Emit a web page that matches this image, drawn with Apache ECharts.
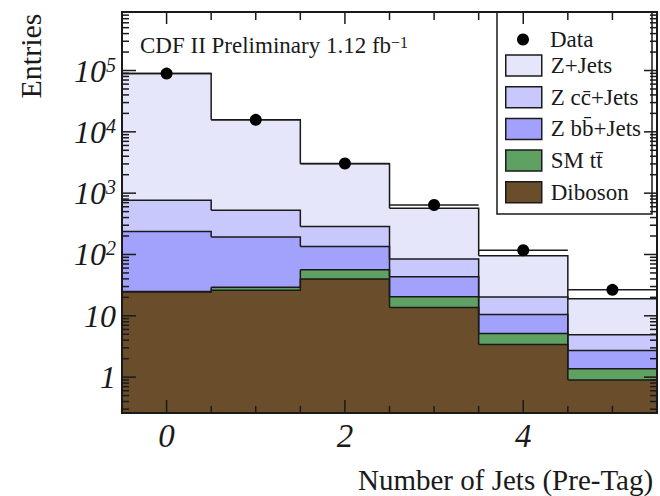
<!DOCTYPE html>
<html><head><meta charset="utf-8">
<script src="https://cdn.jsdelivr.net/npm/echarts@6/dist/echarts.min.js"></script>
<style>html,body{margin:0;padding:0;background:#fff}#c{width:660px;height:496px}</style>
</head><body><div id="c"></div>
<script>
// ---- data ----
const nJets   = [0, 1, 2, 3, 4, 5];
const diboson = [24.5, 26, 39.8, 13.7, 3.4, 0.9];
const ttbar   = [0.4, 3.3, 16.7, 6.8, 1.75, 0.47];
const zbb     = [213, 164, 78.5, 22.9, 5.35, 1.35];
const zcc     = [526, 331, 152, 41, 9.7, 2.18];
const zjets   = [88500, 15180, 2743, 481, 75.3, 14.1];
const dataCounts = [89000, 15700, 3050, 640, 117, 26.5];

const layerNames = ['Diboson', 'SM tt\u0304', 'Z bb\u0304+Jets', 'Z cc\u0304+Jets', 'Z+Jets'];
const layerColors = ['#6a4d2b', '#5fa063', '#a2a2fc', '#c8c8fc', '#e6e6fa'];
const layers = [diboson, ttbar, zbb, zcc, zjets];

const xLabelValues = [0, 2, 4];
const xMinorTicks = [0.5, 1, 1.5, 2.5, 3, 3.5, 4.5, 5];
const yMajorTicks = [1, 10, 100, 1000, 10000, 100000];
const yMinorMult = [2, 3, 4, 5, 6, 7, 8, 9];
const yMin = 0.26, yMax = 9e5;

const SERIF = 'Liberation Serif, Times New Roman, serif';
const INK = '#1a1a1a';

// cumulative stack tops
const tops = [];
layers.forEach((arr, k) => {
  tops.push(arr.map((v, i) => (k === 0 ? 0 : tops[k - 1][i]) + v));
});

const series = [];
// filled layers
layers.forEach((arr, k) => {
  series.push({
    type: 'custom', name: layerNames[k], coordinateSystem: 'cartesian2d', z: 2,
    itemStyle: { color: layerColors[k] },
    encode: { x: 0, y: [1, 2] },
    data: nJets.map((x, i) => [x, k === 0 ? yMin : tops[k - 1][i], tops[k][i]]),
    renderItem: (params, api) => {
      const x = api.value(0), lo = api.value(1), hi = api.value(2);
      const p1 = api.coord([x - 0.5, hi]), p2 = api.coord([x + 0.5, lo]);
      const x1 = Math.round(p1[0]), x2 = Math.round(p2[0]);
      return { type: 'rect', shape: { x: x1, y: p1[1], width: x2 - x1 + 0.5, height: p2[1] - p1[1] },
               style: { fill: layerColors[k] } };
    }
  });
});
// step outlines
layers.forEach((arr, k) => {
  series.push({
    type: 'custom', coordinateSystem: 'cartesian2d', z: 3, silent: true,
    encode: { x: 0, y: 1 },
    data: nJets.map((x, i) => [x, tops[k][i], i < nJets.length - 1 ? tops[k][i + 1] : tops[k][i]]),
    renderItem: (params, api) => {
      const x = api.value(0), t = api.value(1), tn = api.value(2);
      const pts = [api.coord([x - 0.5, t]), api.coord([x + 0.5, t]), api.coord([x + 0.5, tn])];
      return { type: 'polyline', shape: { points: pts }, style: { stroke: INK, lineWidth: 1.5, fill: null } };
    }
  });
});
// data points
series.push({
  type: 'custom', name: 'Data', coordinateSystem: 'cartesian2d', z: 4,
  itemStyle: { color: '#000' },
  encode: { x: 0, y: 1 },
  data: nJets.map((x, i) => [x, dataCounts[i]]),
  renderItem: (params, api) => {
    const x = api.value(0), y = api.value(1);
    const a = api.coord([x - 0.5, y]), b = api.coord([x + 0.5, y]), c = api.coord([x, y]);
    return { type: 'group', children: [
      { type: 'line', shape: { x1: a[0], y1: a[1], x2: b[0], y2: b[1] }, style: { stroke: INK, lineWidth: 1.5 } },
      { type: 'circle', shape: { cx: c[0], cy: c[1], r: 6 }, style: { fill: '#000' } }
    ] };
  }
});
// frame and ticks
series.push({
  type: 'custom', coordinateSystem: 'cartesian2d', z: 5, silent: true,
  encode: { x: 0, y: 1 },
  data: [[0, 1]],
  renderItem: (params, api) => {
    const cs = params.coordSys;
    const L = cs.x, R = cs.x + cs.width, T = cs.y, B = cs.y + cs.height;
    const ch = [];
    const seg = (x1, y1, x2, y2) => ch.push({ type: 'line', shape: { x1, y1, x2, y2 }, style: { stroke: INK, lineWidth: 1.5 } });
    xLabelValues.forEach(v => { const x = api.coord([v, yMin])[0]; seg(x, B, x, B - 13); seg(x, T, x, T + 12); });
    xMinorTicks.forEach(v => { const x = api.coord([v, yMin])[0]; seg(x, B, x, B - 7); seg(x, T, x, T + 8); });
    yMajorTicks.forEach(v => { const y = api.coord([0, v])[1]; seg(L, y, L + 14, y); seg(R, y, R - 13, y); });
    const minors = [];
    [0.1, 1, 10, 100, 1000, 10000, 100000].forEach(d => yMinorMult.forEach(m => minors.push(m * d)));
    minors.filter(v => v > yMin && v < yMax).forEach(v => { const y = api.coord([0, v])[1]; seg(L, y, L + 7, y); seg(R, y, R - 7, y); });
    ch.push({ type: 'rect', shape: { x: L, y: T, width: cs.width, height: cs.height }, style: { fill: null, stroke: INK, lineWidth: 2 } });
    return { type: 'group', children: ch };
  }
});

const chart = echarts.init(document.getElementById('c'), null, { renderer: 'svg' });
chart.setOption({
  animation: false,
  backgroundColor: '#fff',
  textStyle: { fontFamily: SERIF, color: INK },
  grid: { left: 122, right: 1, top: 12, bottom: 83 },
  title: {
    text: 'CDF II Preliminary 1.12 fb{sup|\u22121}', left: 140, top: 34, padding: 0,
    textStyle: { fontFamily: SERIF, fontSize: 23, fontWeight: 'normal', color: INK, lineHeight: 23,
      rich: { sup: { fontFamily: SERIF, fontSize: 16, lineHeight: 10, verticalAlign: 'top', color: INK } } }
  },
  xAxis: {
    type: 'value', min: -0.5, max: 5.5, interval: 0.5,
    axisLine: { show: false }, axisTick: { show: false }, splitLine: { show: false },
    axisLabel: {
      margin: 6, fontFamily: SERIF, fontStyle: 'italic', fontSize: 33, color: INK,
      formatter: v => { const r = Math.round(v); return (Math.abs(v - r) < 1e-9 && xLabelValues.indexOf(r) >= 0) ? String(r) : ''; }
    }
  },
  yAxis: {
    type: 'log', logBase: 10, min: yMin, max: yMax,
    axisLine: { show: false }, axisTick: { show: false }, splitLine: { show: false },
    axisLabel: {
      margin: 6, fontFamily: SERIF, fontStyle: 'italic', fontSize: 32, color: INK, lineHeight: 32,
      formatter: v => {
        const l = Math.log10(v), k = Math.round(l);
        if (Math.abs(l - k) > 1e-6 || yMajorTicks.indexOf(Math.pow(10, k)) < 0) return '';
        if (k === 0) return '1';
        if (k === 1) return '10';
        return '10{sup|' + k + '}';
      },
      rich: { sup: { fontFamily: SERIF, fontStyle: 'italic', fontSize: 20, lineHeight: 14, verticalAlign: 'top', color: INK } }
    }
  },
  legend: [
    { data: [{ name: 'Data', icon: 'circle' }], orient: 'vertical', left: 517, top: 28, padding: 0,
      itemWidth: 36, itemHeight: 12, selectedMode: false, z: 6,
      textStyle: { fontFamily: SERIF, fontSize: 23, color: INK, lineHeight: 22, padding: [0, 0, 0, 4] } },
    { data: layerNames.slice().reverse().map(n => ({ name: n, icon: 'rect', itemStyle: { borderColor: INK, borderWidth: 1.5 } })),
      orient: 'vertical', left: 505, top: 54, padding: 0, itemGap: 8.7,
      itemWidth: 36, itemHeight: 21, selectedMode: false, z: 6,
      textStyle: { fontFamily: SERIF, fontSize: 23, color: INK, lineHeight: 21, padding: [0, 0, 0, 4] } }
  ],
  graphic: [
    { type: 'rect', z: 1, shape: { x: 497, y: 12, width: 155, height: 202 },
      style: { fill: '#fff', stroke: INK, lineWidth: 1.5 } },
    { type: 'text', x: 30, y: 56, rotation: Math.PI / 2,
      style: { text: 'Entries', font: '30px ' + SERIF, fill: INK, align: 'center', verticalAlign: 'middle' } },
    { type: 'text', x: 358, y: 480,
      style: { text: 'Number of Jets (Pre-Tag)', font: '29px ' + SERIF, fill: INK, align: 'left', verticalAlign: 'middle' } }
  ],
  series: series
});
</script>
</body></html>
